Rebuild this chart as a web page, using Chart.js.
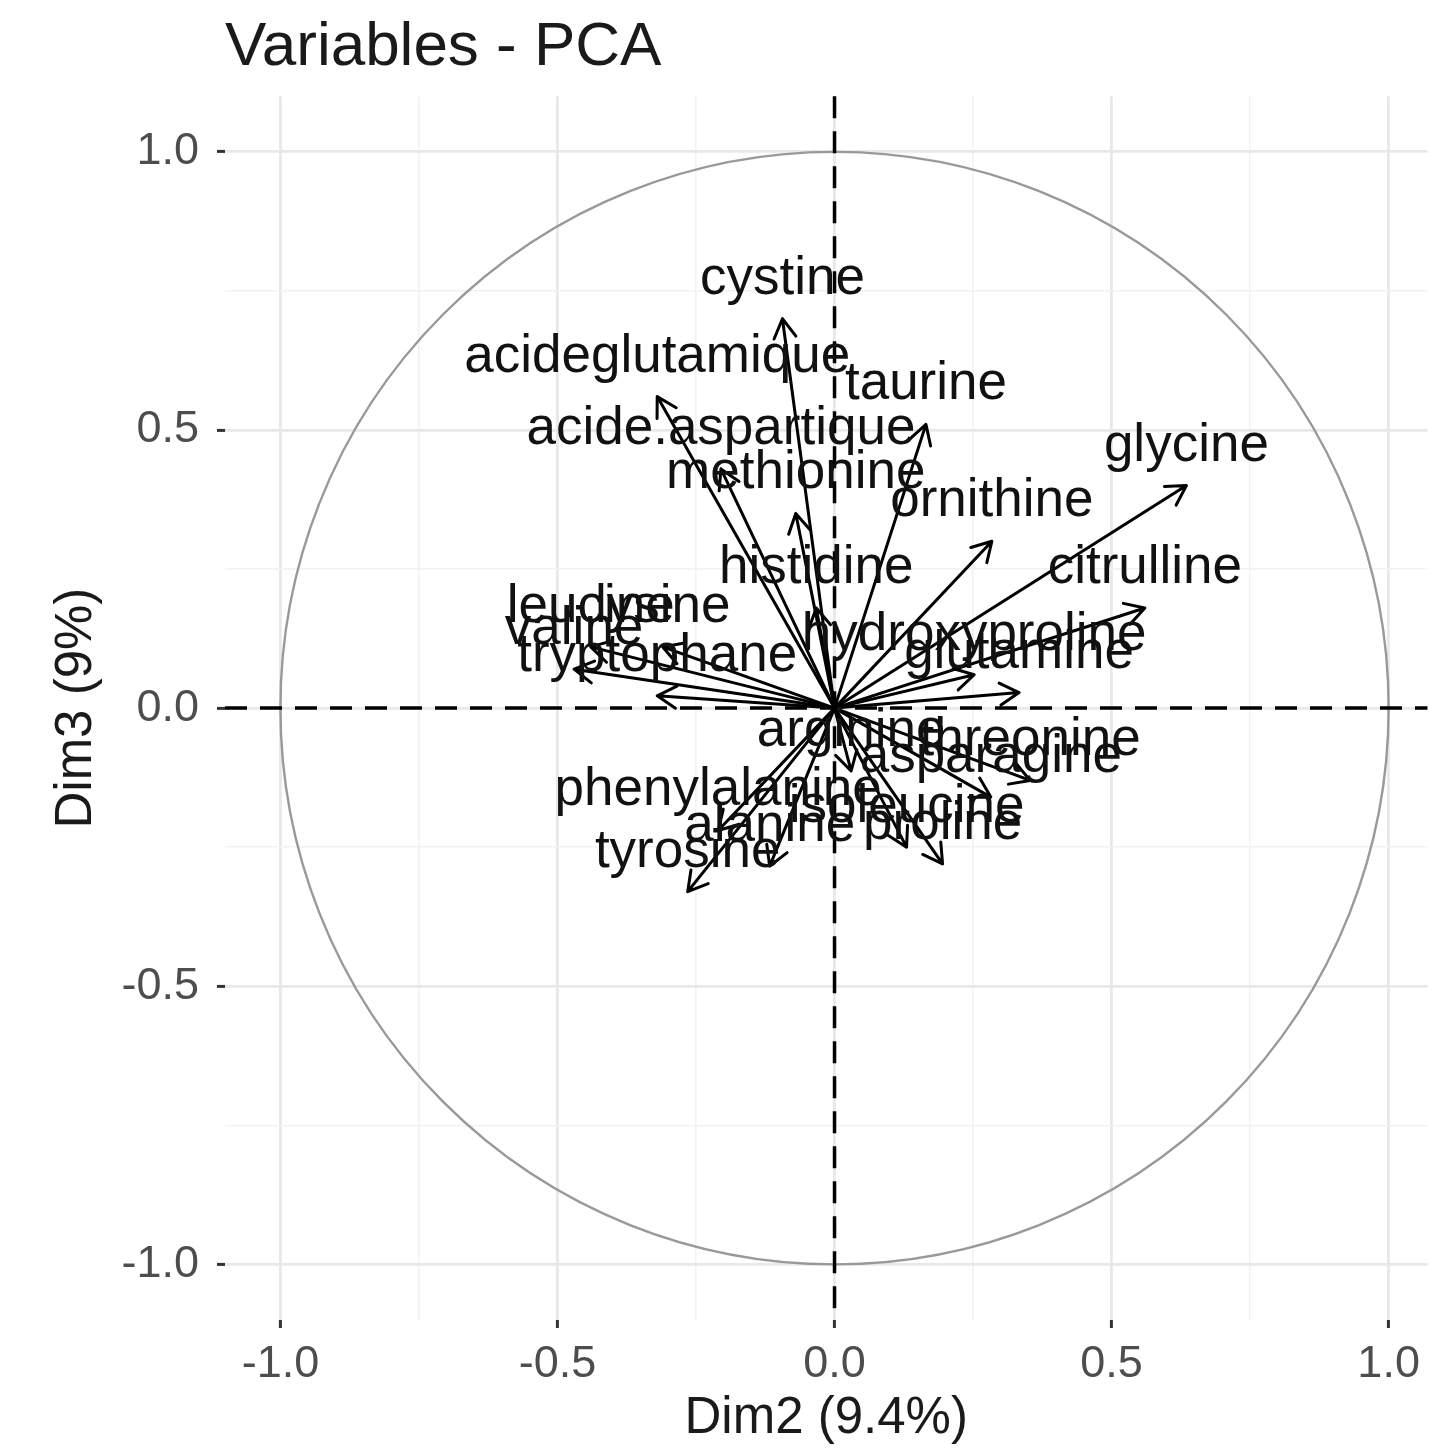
<!DOCTYPE html>
<html>
<head>
<meta charset="utf-8">
<title>Variables - PCA</title>
<script src="https://cdn.jsdelivr.net/npm/chart.js@4.4.0/dist/chart.umd.min.js"></script>
<style>
  html, body { margin: 0; background: #ffffff; }
</style>
</head>
<body>
<canvas id="pcaChart" width="1430" height="1450"></canvas>
<script>
// variables du cercle des corrélations (Dim2 / Dim3)
const variables = [
  'cystine', 'acideglutamique', 'taurine', 'acide.aspartique', 'methionine',
  'ornithine', 'glycine', 'histidine', 'citrulline', 'hydroxyproline',
  'glutamine', 'leucine', 'lysine', 'valine', 'tryptophane',
  'arginine', 'threonine', 'asparagine', 'phenylalanine', 'tyrosine',
  'alanine', 'proline', 'isoleucine'
];
const dim2 = [
  -0.094, -0.32, 0.165, -0.205, -0.07,
  0.284, 0.635, -0.033, 0.56, 0.252,
  0.333, -0.44, -0.31, -0.47, -0.32,
  0.03, 0.353, 0.282, -0.21, -0.265,
  -0.117, 0.195, 0.13
];
const dim3 = [
  0.70, 0.56, 0.51, 0.43, 0.35,
  0.30, 0.40, 0.18, 0.18, 0.06,
  0.028, 0.11, 0.11, 0.07, 0.022,
  -0.113, -0.13, -0.16, -0.22, -0.33,
  -0.284, -0.28, -0.25
];
const majorTicks = [-1, -0.5, 0, 0.5, 1];
const gridTicks = [-1, -0.75, -0.5, -0.25, 0, 0.25, 0.5, 0.75, 1];

const fontFamily = "'Liberation Sans', Arial, Helvetica, sans-serif";
Chart.defaults.font.family = fontFamily;

const isMajor = c => c.tick && majorTicks.includes(c.tick.value);

// cercle, lignes pointillées, flèches et étiquettes
const pcaDecor = {
  id: 'pcaDecor',
  beforeDatasetsDraw(chart) {
    const { ctx, chartArea, scales: { x, y } } = chart;
    const cx = x.getPixelForValue(0);
    const cy = y.getPixelForValue(0);
    ctx.save();
    ctx.strokeStyle = '#999999';
    ctx.lineWidth = 2.4;
    ctx.beginPath();
    ctx.ellipse(cx, cy, x.getPixelForValue(1) - cx, cy - y.getPixelForValue(1), 0, 0, Math.PI * 2);
    ctx.stroke();

    ctx.strokeStyle = '#000000';
    ctx.lineWidth = 3.5;
    ctx.setLineDash([22, 13]);
    ctx.beginPath();
    ctx.moveTo(chartArea.left, cy);
    ctx.lineTo(chartArea.right, cy);
    ctx.moveTo(cx, chartArea.top);
    ctx.lineTo(cx, chartArea.bottom);
    ctx.stroke();
    ctx.restore();
  },
  afterDatasetsDraw(chart) {
    const { ctx, scales: { x, y } } = chart;
    const meta = chart.getDatasetMeta(0);
    const x0 = x.getPixelForValue(0);
    const y0 = y.getPixelForValue(0);
    const head = 22;
    ctx.save();
    ctx.strokeStyle = '#000000';
    ctx.lineWidth = 3;
    ctx.lineCap = 'round';
    ctx.lineJoin = 'round';
    meta.data.forEach(p => {
      const a = Math.atan2(p.y - y0, p.x - x0);
      ctx.beginPath();
      ctx.moveTo(x0, y0);
      ctx.lineTo(p.x, p.y);
      ctx.moveTo(p.x - head * Math.cos(a - Math.PI / 6), p.y - head * Math.sin(a - Math.PI / 6));
      ctx.lineTo(p.x, p.y);
      ctx.lineTo(p.x - head * Math.cos(a + Math.PI / 6), p.y - head * Math.sin(a + Math.PI / 6));
      ctx.stroke();
    });
    ctx.fillStyle = '#111111';
    ctx.font = '53px ' + fontFamily;
    ctx.textAlign = 'center';
    ctx.textBaseline = 'alphabetic';
    meta.data.forEach((p, i) => {
      ctx.fillText(variables[i], p.x, p.y - 25);
    });
    ctx.restore();
  }
};

const axisStyle = (titleText, titlePad, tickPad) => ({
  type: 'linear',
  afterBuildTicks: s => { s.ticks = gridTicks.map(v => ({ value: v })); },
  ticks: {
    autoSkip: false,
    maxRotation: 0,
    color: '#4d4d4d',
    font: { size: 45 },
    padding: tickPad,
    callback: v => majorTicks.includes(v) ? v.toFixed(1) : ''
  },
  grid: {
    color: c => isMajor(c) ? '#e8e8e8' : '#f2f2f2',
    lineWidth: c => isMajor(c) ? 2.8 : 1.6,
    tickLength: 8,
    tickColor: c => isMajor(c) ? '#333333' : 'rgba(0,0,0,0)',
    tickWidth: 3
  },
  border: { display: false },
  title: {
    display: true,
    text: titleText,
    color: '#1a1a1a',
    font: { size: 51 },
    padding: { top: titlePad, bottom: 0 }
  }
});

const ctx = document.getElementById('pcaChart').getContext('2d');
const pcaChart = new Chart(ctx, {
  type: 'scatter',
  data: {
    datasets: [{
      label: 'variables',
      data: variables.map((v, i) => ({ x: dim2[i], y: dim3[i] })),
      pointRadius: 0,
      pointHoverRadius: 0,
      showLine: false
    }]
  },
  options: {
    responsive: false,
    animation: false,
    layout: { padding: 0 },
    plugins: {
      legend: { display: false },
      tooltip: { enabled: false },
      title: {
        display: true,
        text: 'Variables - PCA',
        align: 'start',
        fullSize: false,
        color: '#1a1a1a',
        font: { size: 62, weight: 'normal', lineHeight: 1.1 },
        padding: { top: 14, bottom: 14 }
      }
    },
    scales: {
      x: Object.assign(axisStyle('Dim2 (9.4%)', 2, 10), {
        min: -1.1,
        max: 1.07,
        afterFit: s => { s.height = 130; }
      }),
      y: Object.assign(axisStyle('Dim3 (9%)', 46, 18), {
        min: -1.1,
        max: 1.1,
        afterFit: s => { s.width = 225; }
      })
    }
  },
  plugins: [pcaDecor]
});
</script>
</body>
</html>
